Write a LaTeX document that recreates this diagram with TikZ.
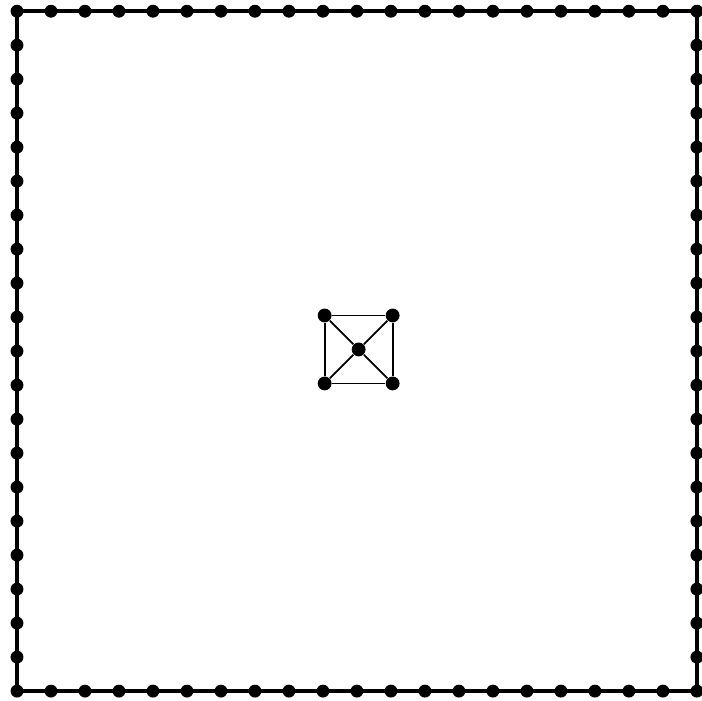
\documentclass[tikz,border=0pt]{standalone}
\usepackage{tikz}

\begin{document}
\begin{tikzpicture}[
  x=0.5cm, y=0.5cm,
  rim/.style={circle, fill=black, inner sep=0pt, minimum size=5.4pt},
  hub/.style={circle, fill=black, inner sep=0pt, minimum size=5.8pt},
  frame/.style={line width=1.9pt, draw=black},
  link/.style={line width=0.75pt, draw=black}
]
\useasboundingbox (-0.5,-0.29) rectangle (20.15,20.33);

% Outer frame corners
\node[rim] (sw) at (0,0) {};
\node[rim] (se) at (20,0) {};
\node[rim] (ne) at (20,20) {};
\node[rim] (nw) at (0,20) {};
\draw[frame] (sw.center) -- (se.center) -- (ne.center) -- (nw.center) -- cycle;

% Dots along the frame
\foreach \i in {1,...,19} {
  \node[rim] (b\i) at (\i,0) {};
  \node[rim] (t\i) at (\i,20) {};
  \node[rim] (l\i) at (0,\i) {};
  \node[rim] (r\i) at (20,\i) {};
}

% Inner cell
\node[hub] (c)  at (10.05,10.05) {};
\node[hub] (c1) at (9.05,11.05) {};
\node[hub] (c2) at (11.05,11.05) {};
\node[hub] (c3) at (11.05,9.05) {};
\node[hub] (c4) at (9.05,9.05) {};

\draw[link] (c1) -- (c2) -- (c3) -- (c4) -- (c1);
\foreach \k in {1,...,4}
  \draw[link] (c) -- (c\k);

\end{tikzpicture}
\end{document}
